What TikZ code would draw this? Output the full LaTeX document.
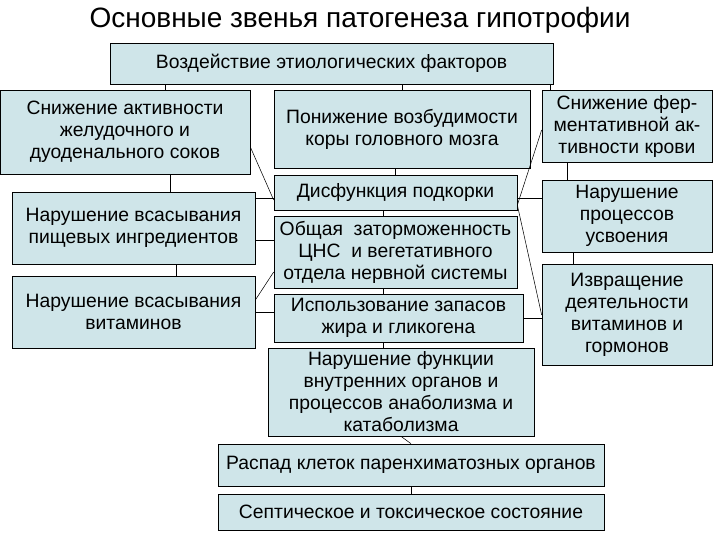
\documentclass[tikz,border=0pt]{standalone}
\usepackage{fontspec}
\setmainfont{Liberation Sans}
\definecolor{boxfill}{HTML}{CFE5E9}
\begin{document}
\begin{tikzpicture}[x=0.75pt,y=-0.75pt,
  bx/.style={draw=black,fill=boxfill,line width=0.5pt,inner sep=0pt,align=center,font=\fontsize{14.5}{16.5}\selectfont},
  ln/.style={draw=black,line width=0.4pt}]
\useasboundingbox (0,0) rectangle (720,540);
\fill[white] (0,0) rectangle (720,540);
\node[font=\fontsize{21}{24}\selectfont] (title) at (360,20) {Основные звенья патогенеза гипотрофии};
\newcommand{\bxx}[6]{\node[bx,minimum width={(#4-#2)*0.75pt},minimum height={(#5-#3)*0.75pt}] (#1) at ({(#2+#4)/2},{(#3+#5)/2}) {#6};}
\bxx{top}{110}{43}{553}{84}{Воздействие этиологических факторов}
\bxx{a1}{0}{90}{250}{174}{Снижение активности\\желудочного и\\дуоденального соков}
\bxx{a2}{274}{90}{530}{168}{Понижение возбудимости\\коры головного мозга}
\bxx{a3}{542}{90}{712}{162}{Снижение фер-\\ментативной ак-\\тивности крови}
\bxx{b1}{12}{192}{255}{264}{Нарушение всасывания\\пищевых ингредиентов}
\bxx{b2}{274}{175}{517}{210}{Дисфункция подкорки}
\bxx{b3}{542}{180}{712}{252}{Нарушение\\процессов\\усвоения}
\bxx{c2}{274}{216}{517}{288}{Общая \ заторможенность\\ЦНС \ и вегетативного\\отдела нервной системы}
\bxx{c1}{12}{276}{255}{348}{Нарушение всасывания\\витаминов}
\bxx{d2}{274}{294}{523}{342}{Использование запасов\\жира и гликогена}
\bxx{c3}{542}{264}{712}{365}{Извращение\\деятельности\\витаминов и\\гормонов}
\bxx{e}{268}{348}{534}{436}{Нарушение функции\\внутренних органов и\\процессов анаболизма и\\катаболизма}
\bxx{f}{218}{444}{604}{486}{Распад клеток паренхиматозных органов}
\bxx{g}{218}{494}{604}{530}{Септическое и токсическое состояние}
% connectors
\draw[ln] (165,84) coordinate (t1) -- (t1 |- a1.north);
\draw[ln] (402,84) coordinate (t2) -- (t2 |- a2.north);
\draw[ln] (550,84) coordinate (t3) -- (t3 |- a3.north);
\draw[ln] (170,174) coordinate (p1) -- (p1 |- b1.north);
\draw[ln] (176,264) coordinate (p2) -- (p2 |- c1.north);
\draw[ln] (395,168) coordinate (p3) -- (p3 |- b2.north);
\draw[ln] (383,210) coordinate (p4) -- (p4 |- c2.north);
\draw[ln] (383,288) coordinate (p5) -- (p5 |- d2.north);
\draw[ln] (383,342) coordinate (p6) -- (p6 |- e.north);
\draw[ln] (e.south) -- (f.north);
\draw[ln] (f.south) -- (g.north);
\draw[ln] (567,162) coordinate (p7) -- (p7 |- b3.north);
\draw[ln] (573,252) coordinate (p8) -- (p8 |- c3.north);
\draw[ln] (a1.east |- 0,147) -- (b2.west |- 0,200);
\draw[ln] (b1.east |- 0,198) -- (b2.west |- 0,198);
\draw[ln] (b1.east |- 0,240) -- (c2.west |- 0,240);
\draw[ln] (c1.east |- 0,300) -- (c2.west |- 0,272);
\draw[ln] (c1.east |- 0,312) -- (d2.west |- 0,312);
\draw[ln] (a3.west |- 0,130) -- (b2.east |- 0,205);
\draw[ln] (b2.east |- 0,198) -- (b3.west |- 0,198);
\draw[ln] (b2.east |- 0,205) -- (c3.west |- 0,315);
\draw[ln] (d2.east |- 0,318) -- (c3.west |- 0,318);
\end{tikzpicture}
\end{document}
